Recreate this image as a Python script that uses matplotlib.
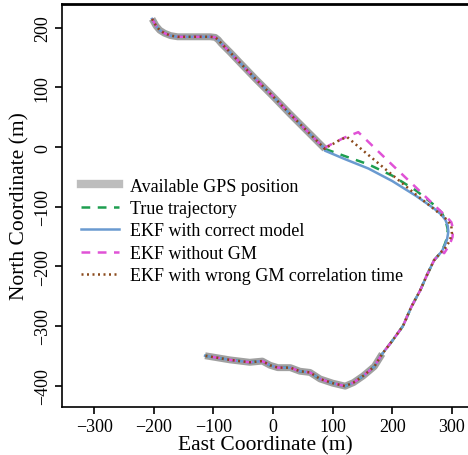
import matplotlib
matplotlib.use("Agg")
import matplotlib.pyplot as plt
from matplotlib.lines import Line2D

plt.rcParams['font.family'] = ['Liberation Serif', 'DejaVu Serif']

# ---- data (metres) ----
# shared top section (GPS available)
top_east = [-203, -200, -196, -190, -182, -172, -160, -145, -125, -105, -97, -92, -87, -80, -72, -55, -30, 0, 28, 50, 70, 87]
top_north = [215, 210, 203, 196, 191, 187, 185, 185, 185, 185, 184, 180, 174, 167, 159, 141, 115, 85, 56, 34, 14, -3]

# GPS outage section, one per series
true_out_east = [87, 120, 160, 200, 240, 270, 283, 290, 293, 292, 288]
true_out_north = [-3, -15, -29, -48, -73, -97, -110, -125, -138, -152, -163]
ekf_out_east = [87, 120, 160, 200, 240, 270, 282, 289, 293, 294, 292, 288]
ekf_out_north = [-6, -20, -36, -57, -82, -103, -113, -122, -132, -142, -154, -165]
nogm_out_east = [87, 100, 120, 143, 170, 200, 240, 270, 292, 299, 302, 301, 296, 287]
nogm_out_north = [-1, 6, 16, 25, -1, -30, -68, -97, -118, -126, -137, -151, -164, -178]
wrong_out_east = [87, 100, 112, 124, 150, 180, 210, 240, 270, 292, 299, 300, 296, 287]
wrong_out_north = [-2, 5, 12, 17, -5, -30, -55, -80, -104, -122, -132, -145, -158, -172]

# shared lower section
low_east = [283, 270, 258, 247, 232, 218, 200, 183, 170, 151, 135, 121, 100, 79, 62, 45, 29, 8, -5, -18, -39, -72, -114]
low_north = [-175, -190, -215, -240, -268, -300, -325, -347, -368, -384, -395, -401, -396, -389, -378, -376, -370, -370, -366, -359, -361, -357, -350]

# GPS available on the lower section from this point on
gps_low_east = [183, 170, 151, 135, 121, 100, 79, 62, 45, 29, 8, -5, -18, -39, -72, -114]
gps_low_north = [-347, -368, -384, -395, -401, -396, -389, -378, -376, -370, -370, -366, -359, -361, -357, -350]

labels = ["Available GPS position", "True trajectory", "EKF with correct model",
          "EKF without GM", "EKF with wrong GM correlation time"]
xticks = [-300, -200, -100, 0, 100, 200, 300]
yticks = [-400, -300, -200, -100, 0, 100, 200]

gps_color = '#a0a0a0'
true_color = '#1e9e50'
ekf_color = '#6a9ad0'
nogm_color = '#e052d6'
wrong_color = '#8b4a1c'
dash = (0, (3.5, 3))
dot = (0, (0.8, 1.4))

fig = plt.figure(figsize=(4.68, 4.56), dpi=100)
ax = fig.add_axes([62/468, 48/456, (468-62)/468, (408-5)/456])

ax.plot(top_east, top_north, color=gps_color, lw=5, solid_capstyle='butt', zorder=1)
ax.plot(gps_low_east, gps_low_north, color=gps_color, lw=5, solid_capstyle='butt', zorder=1)

def full(e, n):
    return top_east + e + low_east, top_north + n + low_north

e, n = full(true_out_east, true_out_north)
ax.plot(e, n, color=true_color, lw=1.8, ls=dash, zorder=2)
e, n = full(ekf_out_east, ekf_out_north)
ax.plot(e, n, color=ekf_color, lw=1.8, zorder=3)
e, n = full(nogm_out_east, nogm_out_north)
ax.plot(e, n, color=nogm_color, lw=1.8, ls=dash, zorder=4)
e, n = full(wrong_out_east, wrong_out_north)
ax.plot(e, n, color=wrong_color, lw=1.8, ls=dot, zorder=5)

ax.set_xlim(-354, 327)
ax.set_ylim(-436, 240)
ax.set_xticks(xticks)
ax.set_yticks(yticks)
ax.tick_params(direction='out', length=5, width=1.2, labelsize=13, colors='black', pad=3)
for lab in ax.get_yticklabels():
    lab.set_rotation(90)
    lab.set_va('center')
for s in ['left', 'bottom']:
    ax.spines[s].set_linewidth(1.2)
ax.spines['top'].set_linewidth(2.0)
ax.spines['right'].set_visible(False)
ax.set_xlabel("East Coordinate (m)", fontsize=15.5, labelpad=0)
ax.set_ylabel("North Coordinate (m)", fontsize=15.5, labelpad=3)

handles = [
    Line2D([], [], color='#bdbdbd', lw=6),
    Line2D([], [], color=true_color, lw=1.8, ls=dash),
    Line2D([], [], color=ekf_color, lw=1.8),
    Line2D([], [], color=nogm_color, lw=1.8, ls=dash),
    Line2D([], [], color=wrong_color, lw=1.8, ls=dot),
]
ax.legend(handles, labels, loc='upper left', bbox_to_anchor=(0.03, 0.587), frameon=False,
          fontsize=13, handlelength=2.1, handletextpad=0.6, labelspacing=0.3, borderaxespad=0)

fig.savefig("out.png", dpi=100)
